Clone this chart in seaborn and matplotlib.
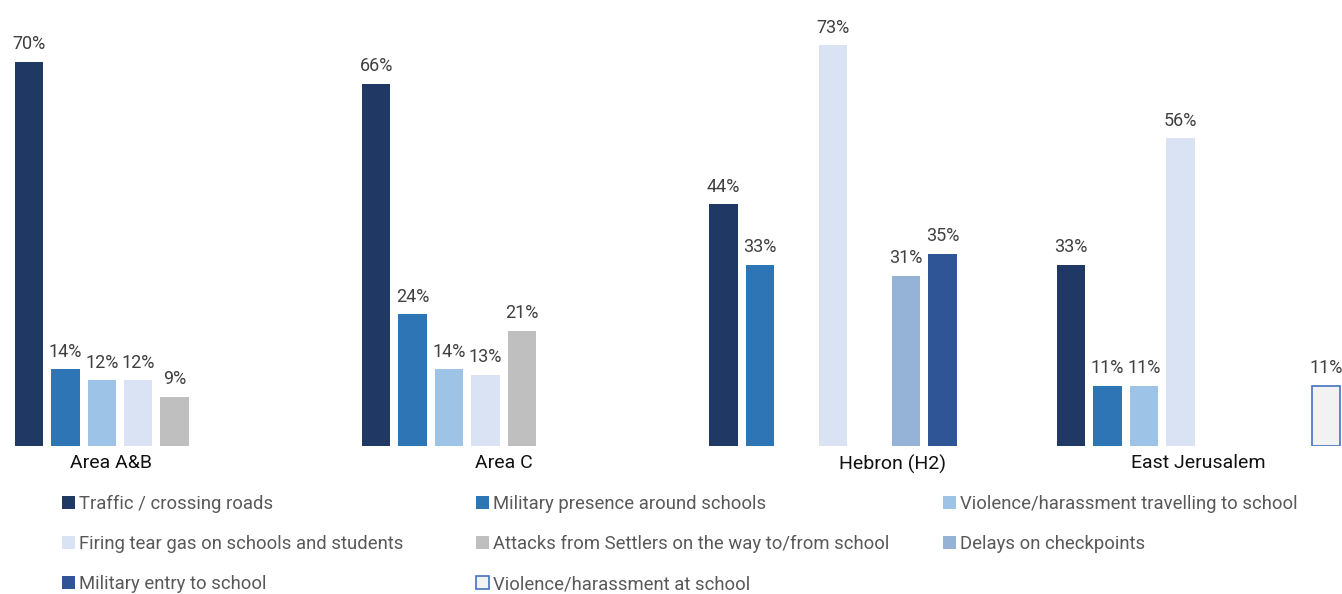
import numpy as np
import pandas as pd
import matplotlib.pyplot as plt
from matplotlib.patches import Patch
import seaborn as sns

# Data
areas = ['Area A&B', 'Area C', 'Hebron (H2)', 'East Jerusalem']
issues = ['Traffic / crossing roads', 'Military presence around schools',
          'Violence/harassment travelling to school', 'Firing tear gas on schools and students',
          'Attacks from Settlers on the way to/from school', 'Delays on checkpoints',
          'Military entry to school', 'Violence/harassment at school']
traffic = [70, 66, 44, 33]
military_presence = [14, 24, 33, 11]
violence_travel = [12, 14, np.nan, 11]
tear_gas = [12, 13, 73, 56]
settlers = [9, 21, np.nan, np.nan]
delays = [np.nan, np.nan, 31, np.nan]
military_entry = [np.nan, np.nan, 35, np.nan]
violence_school = [np.nan, np.nan, np.nan, 11]

colors = ['#203864', '#2e75b6', '#9dc3e6', '#dae3f3',
          '#bfbfbf', '#95b3d7', '#2f5597', '#f2f2f2']

series = [traffic, military_presence, violence_travel, tear_gas,
          settlers, delays, military_entry, violence_school]
rows = []
for issue, vals in zip(issues, series):
    for area, v in zip(areas, vals):
        rows.append({'area': area, 'issue': issue, 'pct': v})
df = pd.DataFrame(rows).dropna()

sns.set_style('white')
plt.rcParams['font.family'] = ['Roboto', 'DejaVu Sans']

fig = plt.figure(figsize=(13.42, 5.94), dpi=100)
ax = fig.add_axes([0, 0.249, 1, 0.751])

sns.barplot(data=df, x='area', y='pct', hue='issue', order=areas, hue_order=issues,
            palette=colors, saturation=1, width=0.84, gap=0.22, errorbar=None,
            linewidth=0, legend=False, ax=ax)

# outlined style for the last series
for bar in ax.containers[-1]:
    bar.set_edgecolor('#4472c4')
    bar.set_linewidth(1.2)

for cont in ax.containers:
    ax.bar_label(cont, fmt='%.0f%%', padding=6, fontsize=13, color='#404040')

ax.set_xlim(-0.4505, 3.413)
ax.set_ylim(0, 81.2)
ax.set_xticks([-0.13, 1, 2.12, 3])
ax.set_xticklabels(areas, fontsize=14, color='#111111')
ax.tick_params(axis='x', length=0, pad=6)
ax.set_yticks([])
ax.set_xlabel('')
ax.set_ylabel('')
sns.despine(ax=ax, left=True, bottom=True)

handles = [Patch(facecolor=c, edgecolor='#4472c4' if i == 7 else c, linewidth=1.2 if i == 7 else 0)
           for i, c in enumerate(colors)]

# legend laid out row by row in three columns
col_x = [62, 476, 943]
for col in range(3):
    idx = list(range(col, len(issues), 3))
    leg = fig.legend([handles[i] for i in idx], [issues[i] for i in idx],
                     loc='upper left', bbox_to_anchor=(col_x[col] / 1342, 1 - 495 / 594),
                     frameon=False, fontsize=13.3, handlelength=0.7, handleheight=0.7,
                     handletextpad=0.2, borderpad=0, borderaxespad=0, labelspacing=1.2)
    for t in leg.get_texts():
        t.set_color('#595959')

fig.savefig('out.png', dpi=100)
